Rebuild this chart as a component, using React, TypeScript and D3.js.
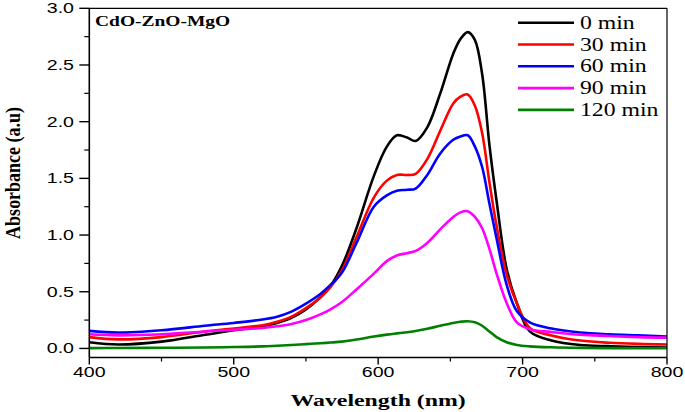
import React from "react";
import * as d3 from "d3";

const wavelengths = [400, 420, 450, 480, 500, 520, 530, 540, 550, 560, 567, 575, 585, 597, 606, 613, 620, 626, 634, 643, 652, 657, 662, 667, 672, 677, 682, 689, 696, 705, 720, 740, 760, 780, 800];

const abs0 = [0.055, 0.035, 0.06, 0.12, 0.16, 0.195, 0.225, 0.27, 0.345, 0.45, 0.55, 0.73, 1.06, 1.52, 1.78, 1.88, 1.86, 1.83, 1.95, 2.25, 2.6, 2.73, 2.79, 2.72, 2.42, 1.8, 1.3, 0.7, 0.4, 0.15, 0.07, 0.03, 0.02, 0.012, 0.008];
const abs30 = [0.1, 0.08, 0.1, 0.15, 0.175, 0.205, 0.235, 0.28, 0.355, 0.45, 0.54, 0.69, 0.98, 1.33, 1.48, 1.53, 1.53, 1.54, 1.67, 1.92, 2.16, 2.22, 2.24, 2.14, 1.9, 1.47, 1.08, 0.65, 0.4, 0.18, 0.115, 0.07, 0.05, 0.04, 0.035];
const abs60 = [0.155, 0.14, 0.16, 0.2, 0.225, 0.255, 0.28, 0.325, 0.395, 0.48, 0.56, 0.67, 0.93, 1.25, 1.35, 1.39, 1.4, 1.41, 1.53, 1.72, 1.84, 1.87, 1.88, 1.78, 1.6, 1.28, 0.97, 0.56, 0.33, 0.23, 0.175, 0.14, 0.125, 0.115, 0.105];
const abs90 = [0.125, 0.115, 0.125, 0.15, 0.165, 0.18, 0.195, 0.215, 0.25, 0.3, 0.345, 0.41, 0.52, 0.66, 0.77, 0.82, 0.84, 0.86, 0.93, 1.05, 1.16, 1.2, 1.21, 1.16, 1.06, 0.88, 0.66, 0.4, 0.23, 0.17, 0.145, 0.12, 0.11, 0.1, 0.095];
const abs120 = [0.003, 0.004, 0.006, 0.008, 0.012, 0.018, 0.024, 0.03, 0.038, 0.046, 0.052, 0.06, 0.078, 0.105, 0.122, 0.133, 0.143, 0.153, 0.173, 0.2, 0.225, 0.235, 0.24, 0.23, 0.2, 0.15, 0.1, 0.055, 0.03, 0.018, 0.01, 0.005, 0.003, 0.002, 0.002];

const seriesNames = ["0 min", "30 min", "60 min", "90 min", "120 min"];
const seriesColors = ["#000000", "#ff0000", "#0000ff", "#ff00ff", "#008000"];
const seriesValues = [abs0, abs30, abs60, abs90, abs120];

const xTicks = [400, 500, 600, 700, 800];
const xMinor = [450, 550, 650, 750];
const yTicks = [0, 0.5, 1.0, 1.5, 2.0, 2.5, 3.0];
const yMinor = [0.25, 0.75, 1.25, 1.75, 2.25, 2.75];

const W = 685;
const H = 412;
const L = 89.3;
const R = 667;
const T = 8.3;
const B = 357.5;
const SX = 1.4;

export default function App() {
  const x = d3.scaleLinear().domain([400, 800]).range([L, R]);
  const y = d3.scaleLinear().domain([-0.08, 3.0]).range([B, T]);
  const line = d3
    .line<number>()
    .x((_, i) => x(wavelengths[i]))
    .y((d) => y(d))
    .curve(d3.curveCatmullRom.alpha(0.5));

  const sans = "'Liberation Sans', Arial, sans-serif";
  const serif = "'Liberation Serif', 'Times New Roman', serif";

  return (
    <svg width={W} height={H} style={{ position: "absolute", left: 0, top: 0, background: "#fff" }}>
      <rect x={0} y={0} width={W} height={H} fill="#fff" />
      <defs>
        <clipPath id="plot">
          <rect x={L} y={T} width={R - L} height={B - T} />
        </clipPath>
      </defs>
      <g clipPath="url(#plot)">
        {seriesValues.map((vals, k) => (
          <path key={k} d={line(vals) || ""} fill="none" stroke={seriesColors[k]} strokeWidth={2.6} strokeLinejoin="round" />
        ))}
      </g>
      {/* frame */}
      <line x1={L} x2={R} y1={T} y2={T} stroke="#000" strokeWidth={1.2} />
      <line x1={R} x2={R} y1={T} y2={B} stroke="#000" strokeWidth={1.2} />
      <line x1={L} x2={R} y1={B} y2={B} stroke="#000" strokeWidth={1.6} />
      <line x1={L} x2={L} y1={T} y2={B} stroke="#000" strokeWidth={1.6} />
      {/* x ticks */}
      {xTicks.map((t) => (
        <g key={"xt" + t}>
          <line x1={x(t)} x2={x(t)} y1={B} y2={B + 7} stroke="#000" strokeWidth={1.4} />
          <text transform={`translate(${x(t)},377) scale(${SX},1)`} textAnchor="middle" fontFamily={sans} fontSize={14} fill="#000">
            {t}
          </text>
        </g>
      ))}
      {xMinor.map((t) => (
        <line key={"xm" + t} x1={x(t)} x2={x(t)} y1={B} y2={B + 4} stroke="#000" strokeWidth={1.2} />
      ))}
      {/* y ticks */}
      {yTicks.map((t) => (
        <g key={"yt" + t}>
          <line x1={L - 10} x2={L} y1={y(t)} y2={y(t)} stroke="#000" strokeWidth={1.4} />
          <text transform={`translate(74,${y(t) + 5}) scale(${SX},1)`} textAnchor="end" fontFamily={sans} fontSize={14} fill="#000">
            {t.toFixed(1)}
          </text>
        </g>
      ))}
      {yMinor.map((t) => (
        <line key={"ym" + t} x1={L - 5} x2={L} y1={y(t)} y2={y(t)} stroke="#000" strokeWidth={1.2} />
      ))}
      {/* axis titles */}
      <text transform={`translate(${(L + R) / 2},406) scale(1.36,1)`} textAnchor="middle" fontFamily={serif} fontWeight="bold" fontSize={17.5} fill="#000">
        Wavelength (nm)
      </text>
      <text transform={`translate(20,${(T + B) / 2 - 10}) scale(1.2,1) rotate(-90)`} textAnchor="middle" fontFamily={serif} fontWeight="bold" fontSize={18} fill="#000">
        Absorbance (a.u)
      </text>
      {/* sample label */}
      <text transform={`translate(95,26) scale(1.3,1)`} fontFamily={serif} fontWeight="bold" fontSize={15} fill="#000">
        CdO-ZnO-MgO
      </text>
      {/* legend */}
      {seriesNames.map((n, k) => {
        const ly = 22.7 + k * 21.8;
        return (
          <g key={"lg" + k}>
            <line x1={518} x2={574} y1={ly} y2={ly} stroke={seriesColors[k]} strokeWidth={2.6} />
            <text transform={`translate(580,${ly + 6}) scale(1.32,1)`} fontFamily={serif} fontSize={18} fill="#000">
              {n}
            </text>
          </g>
        );
      })}
    </svg>
  );
}
